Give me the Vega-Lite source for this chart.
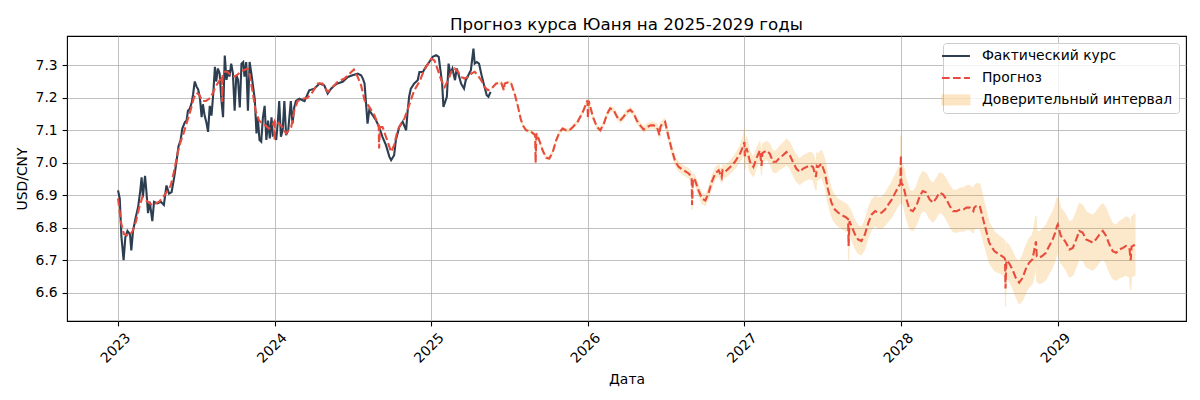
{
  "$schema": "https://vega.github.io/schema/vega-lite/v6.json",
  "width": 1119,
  "height": 285,
  "autosize": {"type": "none"},
  "padding": {"left": 67, "top": 36, "right": 14, "bottom": 79},
  "background": "white",
  "title": {
    "text": "Прогноз курса Юаня на 2025-2029 годы",
    "font": "DejaVu Sans",
    "fontSize": 16.67,
    "fontWeight": "normal",
    "color": "black",
    "anchor": "middle",
    "baseline": "alphabetic",
    "offset": -11
  },
  "datasets": {
    "actual": [
      {"date": "2023-01-01", "rate": 6.915}, {"date": "2023-01-05", "rate": 6.89}, {"date": "2023-01-09", "rate": 6.772}, {"date": "2023-01-14", "rate": 6.70},
      {"date": "2023-01-18", "rate": 6.77}, {"date": "2023-01-23", "rate": 6.79}, {"date": "2023-01-29", "rate": 6.78}, {"date": "2023-02-01", "rate": 6.73},
      {"date": "2023-02-05", "rate": 6.79}, {"date": "2023-02-11", "rate": 6.83}, {"date": "2023-02-17", "rate": 6.865}, {"date": "2023-02-22", "rate": 6.915},
      {"date": "2023-02-25", "rate": 6.955}, {"date": "2023-02-28", "rate": 6.895}, {"date": "2023-03-05", "rate": 6.96}, {"date": "2023-03-08", "rate": 6.915},
      {"date": "2023-03-12", "rate": 6.845}, {"date": "2023-03-16", "rate": 6.88}, {"date": "2023-03-22", "rate": 6.82}, {"date": "2023-03-26", "rate": 6.88},
      {"date": "2023-04-03", "rate": 6.875}, {"date": "2023-04-11", "rate": 6.88}, {"date": "2023-04-18", "rate": 6.87}, {"date": "2023-04-24", "rate": 6.93},
      {"date": "2023-04-30", "rate": 6.905}, {"date": "2023-05-06", "rate": 6.91}, {"date": "2023-05-12", "rate": 6.955}, {"date": "2023-05-17", "rate": 7.00},
      {"date": "2023-05-22", "rate": 7.05}, {"date": "2023-05-27", "rate": 7.07}, {"date": "2023-05-31", "rate": 7.105}, {"date": "2023-06-06", "rate": 7.125},
      {"date": "2023-06-10", "rate": 7.13}, {"date": "2023-06-13", "rate": 7.16}, {"date": "2023-06-17", "rate": 7.165}, {"date": "2023-06-22", "rate": 7.185},
      {"date": "2023-06-25", "rate": 7.21}, {"date": "2023-06-29", "rate": 7.25}, {"date": "2023-07-03", "rate": 7.235}, {"date": "2023-07-07", "rate": 7.225},
      {"date": "2023-07-11", "rate": 7.20}, {"date": "2023-07-15", "rate": 7.14}, {"date": "2023-07-18", "rate": 7.18}, {"date": "2023-07-22", "rate": 7.145},
      {"date": "2023-07-26", "rate": 7.125}, {"date": "2023-07-30", "rate": 7.095}, {"date": "2023-08-03", "rate": 7.175}, {"date": "2023-08-07", "rate": 7.145},
      {"date": "2023-08-11", "rate": 7.21}, {"date": "2023-08-15", "rate": 7.295}, {"date": "2023-08-18", "rate": 7.25}, {"date": "2023-08-22", "rate": 7.29},
      {"date": "2023-08-26", "rate": 7.275}, {"date": "2023-08-30", "rate": 7.195}, {"date": "2023-09-03", "rate": 7.14}, {"date": "2023-09-07", "rate": 7.33},
      {"date": "2023-09-11", "rate": 7.255}, {"date": "2023-09-15", "rate": 7.285}, {"date": "2023-09-18", "rate": 7.265}, {"date": "2023-09-22", "rate": 7.305},
      {"date": "2023-09-26", "rate": 7.275}, {"date": "2023-09-30", "rate": 7.16}, {"date": "2023-10-04", "rate": 7.27}, {"date": "2023-10-08", "rate": 7.255},
      {"date": "2023-10-12", "rate": 7.17}, {"date": "2023-10-16", "rate": 7.305}, {"date": "2023-10-20", "rate": 7.31}, {"date": "2023-10-23", "rate": 7.265},
      {"date": "2023-10-27", "rate": 7.31}, {"date": "2023-10-31", "rate": 7.16}, {"date": "2023-11-04", "rate": 7.31}, {"date": "2023-11-08", "rate": 7.275},
      {"date": "2023-11-12", "rate": 7.235}, {"date": "2023-11-16", "rate": 7.195}, {"date": "2023-11-20", "rate": 7.09}, {"date": "2023-11-23", "rate": 7.14},
      {"date": "2023-11-27", "rate": 7.07}, {"date": "2023-12-01", "rate": 7.065}, {"date": "2023-12-05", "rate": 7.14}, {"date": "2023-12-09", "rate": 7.175},
      {"date": "2023-12-13", "rate": 7.07}, {"date": "2023-12-17", "rate": 7.13}, {"date": "2023-12-21", "rate": 7.075}, {"date": "2023-12-25", "rate": 7.14},
      {"date": "2023-12-28", "rate": 7.085}, {"date": "2024-01-01", "rate": 7.09}, {"date": "2024-01-05", "rate": 7.07}, {"date": "2024-01-09", "rate": 7.13},
      {"date": "2024-01-12", "rate": 7.19}, {"date": "2024-01-16", "rate": 7.08}, {"date": "2024-01-20", "rate": 7.10}, {"date": "2024-01-24", "rate": 7.19},
      {"date": "2024-01-28", "rate": 7.085}, {"date": "2024-02-02", "rate": 7.10}, {"date": "2024-02-08", "rate": 7.19}, {"date": "2024-02-12", "rate": 7.12},
      {"date": "2024-02-16", "rate": 7.17}, {"date": "2024-02-20", "rate": 7.19}, {"date": "2024-02-28", "rate": 7.197}, {"date": "2024-03-11", "rate": 7.19},
      {"date": "2024-03-22", "rate": 7.223}, {"date": "2024-04-03", "rate": 7.228}, {"date": "2024-04-15", "rate": 7.244}, {"date": "2024-04-26", "rate": 7.238},
      {"date": "2024-05-04", "rate": 7.213}, {"date": "2024-05-12", "rate": 7.228}, {"date": "2024-05-20", "rate": 7.238}, {"date": "2024-05-27", "rate": 7.244},
      {"date": "2024-06-08", "rate": 7.249}, {"date": "2024-06-20", "rate": 7.264}, {"date": "2024-07-01", "rate": 7.269}, {"date": "2024-07-13", "rate": 7.274},
      {"date": "2024-07-21", "rate": 7.269}, {"date": "2024-07-25", "rate": 7.259}, {"date": "2024-07-29", "rate": 7.244}, {"date": "2024-08-01", "rate": 7.192},
      {"date": "2024-08-05", "rate": 7.12}, {"date": "2024-08-09", "rate": 7.162}, {"date": "2024-08-17", "rate": 7.146}, {"date": "2024-08-25", "rate": 7.13},
      {"date": "2024-09-01", "rate": 7.11}, {"date": "2024-09-09", "rate": 7.079}, {"date": "2024-09-17", "rate": 7.054}, {"date": "2024-09-25", "rate": 7.018},
      {"date": "2024-09-29", "rate": 7.008}, {"date": "2024-10-06", "rate": 7.023}, {"date": "2024-10-10", "rate": 7.069}, {"date": "2024-10-18", "rate": 7.11},
      {"date": "2024-10-26", "rate": 7.126}, {"date": "2024-11-03", "rate": 7.10}, {"date": "2024-11-06", "rate": 7.151}, {"date": "2024-11-10", "rate": 7.203},
      {"date": "2024-11-14", "rate": 7.228}, {"date": "2024-11-22", "rate": 7.244}, {"date": "2024-11-30", "rate": 7.254}, {"date": "2024-12-04", "rate": 7.279},
      {"date": "2024-12-12", "rate": 7.279}, {"date": "2024-12-19", "rate": 7.295}, {"date": "2024-12-27", "rate": 7.31}, {"date": "2025-01-04", "rate": 7.326},
      {"date": "2025-01-12", "rate": 7.331}, {"date": "2025-01-18", "rate": 7.326}, {"date": "2025-01-22", "rate": 7.285}, {"date": "2025-01-26", "rate": 7.244},
      {"date": "2025-01-29", "rate": 7.172}, {"date": "2025-02-02", "rate": 7.187}, {"date": "2025-02-06", "rate": 7.203}, {"date": "2025-02-10", "rate": 7.305},
      {"date": "2025-02-14", "rate": 7.274}, {"date": "2025-02-19", "rate": 7.29}, {"date": "2025-02-25", "rate": 7.254}, {"date": "2025-03-01", "rate": 7.29},
      {"date": "2025-03-07", "rate": 7.264}, {"date": "2025-03-11", "rate": 7.244}, {"date": "2025-03-18", "rate": 7.228}, {"date": "2025-03-22", "rate": 7.254},
      {"date": "2025-03-28", "rate": 7.269}, {"date": "2025-04-03", "rate": 7.285}, {"date": "2025-04-09", "rate": 7.351}, {"date": "2025-04-12", "rate": 7.305},
      {"date": "2025-04-17", "rate": 7.31}, {"date": "2025-04-22", "rate": 7.305}, {"date": "2025-04-28", "rate": 7.269}, {"date": "2025-05-04", "rate": 7.238},
      {"date": "2025-05-10", "rate": 7.208}, {"date": "2025-05-14", "rate": 7.203}, {"date": "2025-05-19", "rate": 7.218}
    ],
    "forecast": [
      {"date": "2023-01-01", "rate": 6.89}, {"date": "2023-01-08", "rate": 6.815}, {"date": "2023-01-15", "rate": 6.78}, {"date": "2023-01-27", "rate": 6.775},
      {"date": "2023-02-04", "rate": 6.79}, {"date": "2023-02-12", "rate": 6.82}, {"date": "2023-02-19", "rate": 6.86}, {"date": "2023-02-27", "rate": 6.895},
      {"date": "2023-03-11", "rate": 6.88}, {"date": "2023-03-22", "rate": 6.87}, {"date": "2023-04-07", "rate": 6.88}, {"date": "2023-04-22", "rate": 6.905},
      {"date": "2023-05-04", "rate": 6.93}, {"date": "2023-05-12", "rate": 6.975}, {"date": "2023-05-20", "rate": 7.03}, {"date": "2023-05-27", "rate": 7.065},
      {"date": "2023-06-04", "rate": 7.095}, {"date": "2023-06-12", "rate": 7.13}, {"date": "2023-06-20", "rate": 7.165}, {"date": "2023-06-27", "rate": 7.20},
      {"date": "2023-07-03", "rate": 7.215}, {"date": "2023-07-09", "rate": 7.21}, {"date": "2023-07-17", "rate": 7.19}, {"date": "2023-07-25", "rate": 7.19},
      {"date": "2023-08-05", "rate": 7.20}, {"date": "2023-08-17", "rate": 7.235}, {"date": "2023-08-29", "rate": 7.26}, {"date": "2023-08-31", "rate": 7.265},
      {"date": "2023-09-01", "rate": 7.187}, {"date": "2023-09-02", "rate": 7.27}, {"date": "2023-09-05", "rate": 7.28}, {"date": "2023-09-13", "rate": 7.28},
      {"date": "2023-09-21", "rate": 7.27}, {"date": "2023-09-29", "rate": 7.265}, {"date": "2023-10-06", "rate": 7.27}, {"date": "2023-10-14", "rate": 7.28},
      {"date": "2023-10-22", "rate": 7.285}, {"date": "2023-10-30", "rate": 7.29}, {"date": "2023-11-04", "rate": 7.27}, {"date": "2023-11-10", "rate": 7.225},
      {"date": "2023-11-18", "rate": 7.16}, {"date": "2023-11-26", "rate": 7.13}, {"date": "2023-12-04", "rate": 7.12}, {"date": "2023-12-11", "rate": 7.115},
      {"date": "2023-12-19", "rate": 7.105}, {"date": "2023-12-27", "rate": 7.115}, {"date": "2023-12-31", "rate": 7.125}, {"date": "2024-01-01", "rate": 7.07},
      {"date": "2024-01-02", "rate": 7.13}, {"date": "2024-01-16", "rate": 7.115}, {"date": "2024-01-28", "rate": 7.09}, {"date": "2024-02-09", "rate": 7.11},
      {"date": "2024-02-16", "rate": 7.16}, {"date": "2024-02-24", "rate": 7.19}, {"date": "2024-03-07", "rate": 7.197}, {"date": "2024-03-18", "rate": 7.20},
      {"date": "2024-03-30", "rate": 7.218}, {"date": "2024-04-11", "rate": 7.244}, {"date": "2024-04-22", "rate": 7.244}, {"date": "2024-05-04", "rate": 7.218},
      {"date": "2024-05-16", "rate": 7.233}, {"date": "2024-05-27", "rate": 7.249}, {"date": "2024-06-12", "rate": 7.259}, {"date": "2024-06-24", "rate": 7.274},
      {"date": "2024-07-04", "rate": 7.287}, {"date": "2024-07-13", "rate": 7.264}, {"date": "2024-07-21", "rate": 7.238}, {"date": "2024-07-29", "rate": 7.192},
      {"date": "2024-08-09", "rate": 7.172}, {"date": "2024-08-21", "rate": 7.146}, {"date": "2024-08-29", "rate": 7.12}, {"date": "2024-08-31", "rate": 7.115},
      {"date": "2024-09-01", "rate": 7.044}, {"date": "2024-09-03", "rate": 7.11}, {"date": "2024-09-09", "rate": 7.11}, {"date": "2024-09-17", "rate": 7.08},
      {"date": "2024-09-29", "rate": 7.033}, {"date": "2024-10-06", "rate": 7.054}, {"date": "2024-10-14", "rate": 7.10}, {"date": "2024-10-22", "rate": 7.12},
      {"date": "2024-10-30", "rate": 7.136}, {"date": "2024-11-10", "rate": 7.177}, {"date": "2024-11-22", "rate": 7.223}, {"date": "2024-12-04", "rate": 7.249},
      {"date": "2024-12-15", "rate": 7.285}, {"date": "2024-12-27", "rate": 7.31}, {"date": "2025-01-01", "rate": 7.32}, {"date": "2025-01-08", "rate": 7.315},
      {"date": "2025-01-16", "rate": 7.285}, {"date": "2025-01-24", "rate": 7.254}, {"date": "2025-02-01", "rate": 7.233}, {"date": "2025-02-09", "rate": 7.254},
      {"date": "2025-02-16", "rate": 7.28}, {"date": "2025-02-24", "rate": 7.29}, {"date": "2025-03-04", "rate": 7.28}, {"date": "2025-03-11", "rate": 7.264},
      {"date": "2025-03-19", "rate": 7.259}, {"date": "2025-03-27", "rate": 7.264}, {"date": "2025-04-04", "rate": 7.274}, {"date": "2025-04-12", "rate": 7.28},
      {"date": "2025-04-19", "rate": 7.269}, {"date": "2025-04-27", "rate": 7.254}, {"date": "2025-05-05", "rate": 7.233}, {"date": "2025-05-13", "rate": 7.223},
      {"date": "2025-05-21", "rate": 7.228}, {"date": "2025-06-01", "rate": 7.244}, {"date": "2025-06-13", "rate": 7.246}, {"date": "2025-06-19", "rate": 7.223},
      {"date": "2025-06-21", "rate": 7.244}, {"date": "2025-07-02", "rate": 7.249}, {"date": "2025-07-06", "rate": 7.244}, {"date": "2025-07-14", "rate": 7.213},
      {"date": "2025-07-22", "rate": 7.172}, {"date": "2025-07-28", "rate": 7.136}, {"date": "2025-08-02", "rate": 7.115}, {"date": "2025-08-10", "rate": 7.10},
      {"date": "2025-08-22", "rate": 7.095}, {"date": "2025-08-31", "rate": 7.085}, {"date": "2025-09-01", "rate": 7.00}, {"date": "2025-09-03", "rate": 7.09},
      {"date": "2025-09-10", "rate": 7.067}, {"date": "2025-09-18", "rate": 7.036}, {"date": "2025-09-26", "rate": 7.015}, {"date": "2025-10-03", "rate": 7.013},
      {"date": "2025-10-11", "rate": 7.033}, {"date": "2025-10-19", "rate": 7.069}, {"date": "2025-10-27", "rate": 7.095}, {"date": "2025-11-03", "rate": 7.105},
      {"date": "2025-11-11", "rate": 7.10}, {"date": "2025-11-19", "rate": 7.10}, {"date": "2025-11-27", "rate": 7.11}, {"date": "2025-12-08", "rate": 7.126},
      {"date": "2025-12-20", "rate": 7.156}, {"date": "2025-12-28", "rate": 7.182}, {"date": "2025-12-31", "rate": 7.192}, {"date": "2026-01-01", "rate": 7.136},
      {"date": "2026-01-03", "rate": 7.19}, {"date": "2026-01-13", "rate": 7.14}, {"date": "2026-01-22", "rate": 7.11}, {"date": "2026-01-30", "rate": 7.10},
      {"date": "2026-02-07", "rate": 7.12}, {"date": "2026-02-15", "rate": 7.151}, {"date": "2026-02-22", "rate": 7.167}, {"date": "2026-03-02", "rate": 7.162},
      {"date": "2026-03-10", "rate": 7.141}, {"date": "2026-03-17", "rate": 7.13}, {"date": "2026-03-25", "rate": 7.141}, {"date": "2026-04-02", "rate": 7.156},
      {"date": "2026-04-10", "rate": 7.163}, {"date": "2026-04-18", "rate": 7.151}, {"date": "2026-04-25", "rate": 7.13}, {"date": "2026-05-03", "rate": 7.115},
      {"date": "2026-05-11", "rate": 7.102}, {"date": "2026-05-19", "rate": 7.11}, {"date": "2026-05-27", "rate": 7.115}, {"date": "2026-06-03", "rate": 7.115},
      {"date": "2026-06-11", "rate": 7.11}, {"date": "2026-06-17", "rate": 7.085}, {"date": "2026-06-19", "rate": 7.11}, {"date": "2026-06-23", "rate": 7.12},
      {"date": "2026-06-30", "rate": 7.126}, {"date": "2026-07-08", "rate": 7.08}, {"date": "2026-07-16", "rate": 7.038}, {"date": "2026-07-24", "rate": 7.003},
      {"date": "2026-08-01", "rate": 6.987}, {"date": "2026-08-12", "rate": 6.977}, {"date": "2026-08-24", "rate": 6.967}, {"date": "2026-08-31", "rate": 6.956},
      {"date": "2026-09-01", "rate": 6.87}, {"date": "2026-09-03", "rate": 6.952}, {"date": "2026-09-08", "rate": 6.946}, {"date": "2026-09-16", "rate": 6.915},
      {"date": "2026-09-24", "rate": 6.89}, {"date": "2026-10-02", "rate": 6.884}, {"date": "2026-10-09", "rate": 6.905}, {"date": "2026-10-17", "rate": 6.941},
      {"date": "2026-10-25", "rate": 6.967}, {"date": "2026-11-02", "rate": 6.977}, {"date": "2026-11-09", "rate": 6.955}, {"date": "2026-11-11", "rate": 6.977},
      {"date": "2026-11-17", "rate": 6.972}, {"date": "2026-11-29", "rate": 6.987}, {"date": "2026-12-10", "rate": 7.003}, {"date": "2026-12-22", "rate": 7.028},
      {"date": "2026-12-30", "rate": 7.054}, {"date": "2027-01-01", "rate": 7.064}, {"date": "2027-01-02", "rate": 7.02}, {"date": "2027-01-06", "rate": 7.045},
      {"date": "2027-01-14", "rate": 7.003}, {"date": "2027-01-22", "rate": 6.987}, {"date": "2027-01-29", "rate": 7.013}, {"date": "2027-02-06", "rate": 7.038},
      {"date": "2027-02-10", "rate": 6.99}, {"date": "2027-02-12", "rate": 7.03}, {"date": "2027-02-22", "rate": 7.038}, {"date": "2027-03-01", "rate": 7.028},
      {"date": "2027-03-09", "rate": 7.003}, {"date": "2027-03-16", "rate": 7.003}, {"date": "2027-03-24", "rate": 7.015}, {"date": "2027-04-01", "rate": 7.023},
      {"date": "2027-04-09", "rate": 7.033}, {"date": "2027-04-17", "rate": 7.023}, {"date": "2027-04-24", "rate": 7.003}, {"date": "2027-05-02", "rate": 6.982},
      {"date": "2027-05-10", "rate": 6.972}, {"date": "2027-05-18", "rate": 6.982}, {"date": "2027-05-26", "rate": 6.987}, {"date": "2027-06-03", "rate": 6.992},
      {"date": "2027-06-10", "rate": 6.987}, {"date": "2027-06-17", "rate": 6.956}, {"date": "2027-06-19", "rate": 6.99}, {"date": "2027-06-22", "rate": 6.987},
      {"date": "2027-06-30", "rate": 6.997}, {"date": "2027-07-08", "rate": 6.967}, {"date": "2027-07-15", "rate": 6.918}, {"date": "2027-07-23", "rate": 6.877},
      {"date": "2027-07-31", "rate": 6.856}, {"date": "2027-08-08", "rate": 6.846}, {"date": "2027-08-20", "rate": 6.836}, {"date": "2027-08-27", "rate": 6.831},
      {"date": "2027-08-31", "rate": 6.826}, {"date": "2027-09-01", "rate": 6.744}, {"date": "2027-09-03", "rate": 6.82}, {"date": "2027-09-08", "rate": 6.805},
      {"date": "2027-09-16", "rate": 6.779}, {"date": "2027-09-23", "rate": 6.764}, {"date": "2027-10-01", "rate": 6.759}, {"date": "2027-10-09", "rate": 6.779},
      {"date": "2027-10-17", "rate": 6.815}, {"date": "2027-10-25", "rate": 6.841}, {"date": "2027-11-02", "rate": 6.851}, {"date": "2027-11-09", "rate": 6.846},
      {"date": "2027-11-17", "rate": 6.846}, {"date": "2027-11-25", "rate": 6.856}, {"date": "2027-12-03", "rate": 6.872}, {"date": "2027-12-11", "rate": 6.887},
      {"date": "2027-12-19", "rate": 6.908}, {"date": "2027-12-27", "rate": 6.928}, {"date": "2027-12-31", "rate": 6.935}, {"date": "2028-01-01", "rate": 7.023},
      {"date": "2028-01-02", "rate": 6.938}, {"date": "2028-01-07", "rate": 6.928}, {"date": "2028-01-13", "rate": 6.892}, {"date": "2028-01-21", "rate": 6.856},
      {"date": "2028-01-29", "rate": 6.851}, {"date": "2028-02-06", "rate": 6.867}, {"date": "2028-02-14", "rate": 6.897}, {"date": "2028-02-21", "rate": 6.913},
      {"date": "2028-02-29", "rate": 6.908}, {"date": "2028-03-08", "rate": 6.887}, {"date": "2028-03-16", "rate": 6.877}, {"date": "2028-03-24", "rate": 6.892},
      {"date": "2028-03-31", "rate": 6.908}, {"date": "2028-04-08", "rate": 6.903}, {"date": "2028-04-16", "rate": 6.887}, {"date": "2028-04-24", "rate": 6.867},
      {"date": "2028-05-02", "rate": 6.851}, {"date": "2028-05-10", "rate": 6.851}, {"date": "2028-05-18", "rate": 6.856}, {"date": "2028-05-26", "rate": 6.856},
      {"date": "2028-06-02", "rate": 6.862}, {"date": "2028-06-10", "rate": 6.862}, {"date": "2028-06-18", "rate": 6.851}, {"date": "2028-06-20", "rate": 6.862},
      {"date": "2028-06-25", "rate": 6.867}, {"date": "2028-07-03", "rate": 6.867}, {"date": "2028-07-09", "rate": 6.836}, {"date": "2028-07-17", "rate": 6.795},
      {"date": "2028-07-25", "rate": 6.754}, {"date": "2028-08-06", "rate": 6.728}, {"date": "2028-08-17", "rate": 6.718}, {"date": "2028-08-29", "rate": 6.708},
      {"date": "2028-08-31", "rate": 6.703}, {"date": "2028-09-01", "rate": 6.613}, {"date": "2028-09-03", "rate": 6.70}, {"date": "2028-09-09", "rate": 6.692},
      {"date": "2028-09-17", "rate": 6.672}, {"date": "2028-09-25", "rate": 6.646}, {"date": "2028-10-03", "rate": 6.631}, {"date": "2028-10-11", "rate": 6.646},
      {"date": "2028-10-18", "rate": 6.672}, {"date": "2028-10-26", "rate": 6.692}, {"date": "2028-11-03", "rate": 6.703}, {"date": "2028-11-11", "rate": 6.758},
      {"date": "2028-11-13", "rate": 6.712}, {"date": "2028-11-19", "rate": 6.708}, {"date": "2028-11-26", "rate": 6.713}, {"date": "2028-12-04", "rate": 6.723},
      {"date": "2028-12-12", "rate": 6.744}, {"date": "2028-12-20", "rate": 6.764}, {"date": "2028-12-26", "rate": 6.785}, {"date": "2028-12-30", "rate": 6.805},
      {"date": "2029-01-01", "rate": 6.81}, {"date": "2029-01-04", "rate": 6.795}, {"date": "2029-01-08", "rate": 6.775}, {"date": "2029-01-12", "rate": 6.77},
      {"date": "2029-01-20", "rate": 6.754}, {"date": "2029-01-28", "rate": 6.733}, {"date": "2029-02-05", "rate": 6.738}, {"date": "2029-02-13", "rate": 6.764},
      {"date": "2029-02-20", "rate": 6.79}, {"date": "2029-02-28", "rate": 6.785}, {"date": "2029-03-08", "rate": 6.764}, {"date": "2029-03-16", "rate": 6.759},
      {"date": "2029-03-24", "rate": 6.754}, {"date": "2029-03-31", "rate": 6.764}, {"date": "2029-04-08", "rate": 6.779}, {"date": "2029-04-16", "rate": 6.79},
      {"date": "2029-04-24", "rate": 6.774}, {"date": "2029-05-01", "rate": 6.749}, {"date": "2029-05-09", "rate": 6.728}, {"date": "2029-05-17", "rate": 6.723},
      {"date": "2029-05-25", "rate": 6.733}, {"date": "2029-06-02", "rate": 6.738}, {"date": "2029-06-09", "rate": 6.744}, {"date": "2029-06-17", "rate": 6.738},
      {"date": "2029-06-20", "rate": 6.70}, {"date": "2029-06-22", "rate": 6.742}, {"date": "2029-06-25", "rate": 6.744}, {"date": "2029-06-30", "rate": 6.748}
    ],
    "band": [
      {"date": "2025-05-21", "lo": 7.225, "hi": 7.231}, {"date": "2025-06-01", "lo": 7.241, "hi": 7.247}, {"date": "2025-06-13", "lo": 7.243, "hi": 7.249},
      {"date": "2025-06-19", "lo": 7.22, "hi": 7.226}, {"date": "2025-06-21", "lo": 7.241, "hi": 7.247}, {"date": "2025-07-02", "lo": 7.246, "hi": 7.252},
      {"date": "2025-07-06", "lo": 7.241, "hi": 7.247}, {"date": "2025-07-14", "lo": 7.21, "hi": 7.216}, {"date": "2025-07-22", "lo": 7.169, "hi": 7.175},
      {"date": "2025-07-28", "lo": 7.133, "hi": 7.139}, {"date": "2025-08-02", "lo": 7.112, "hi": 7.118}, {"date": "2025-08-10", "lo": 7.096, "hi": 7.104},
      {"date": "2025-08-22", "lo": 7.091, "hi": 7.099}, {"date": "2025-08-31", "lo": 7.081, "hi": 7.089}, {"date": "2025-09-01", "lo": 6.996, "hi": 7.004},
      {"date": "2025-09-03", "lo": 7.086, "hi": 7.094}, {"date": "2025-09-10", "lo": 7.063, "hi": 7.071}, {"date": "2025-09-18", "lo": 7.032, "hi": 7.04},
      {"date": "2025-09-26", "lo": 7.011, "hi": 7.019}, {"date": "2025-10-03", "lo": 7.008, "hi": 7.018}, {"date": "2025-10-11", "lo": 7.028, "hi": 7.038},
      {"date": "2025-10-19", "lo": 7.064, "hi": 7.074}, {"date": "2025-10-27", "lo": 7.09, "hi": 7.10}, {"date": "2025-11-03", "lo": 7.10, "hi": 7.11},
      {"date": "2025-11-11", "lo": 7.095, "hi": 7.105}, {"date": "2025-11-19", "lo": 7.095, "hi": 7.105}, {"date": "2025-11-27", "lo": 7.105, "hi": 7.115},
      {"date": "2025-12-08", "lo": 7.12, "hi": 7.132}, {"date": "2025-12-20", "lo": 7.15, "hi": 7.162}, {"date": "2025-12-28", "lo": 7.176, "hi": 7.188},
      {"date": "2025-12-31", "lo": 7.186, "hi": 7.198}, {"date": "2026-01-01", "lo": 7.13, "hi": 7.142}, {"date": "2026-01-03", "lo": 7.184, "hi": 7.196},
      {"date": "2026-01-13", "lo": 7.134, "hi": 7.146}, {"date": "2026-01-22", "lo": 7.104, "hi": 7.116}, {"date": "2026-01-30", "lo": 7.094, "hi": 7.106},
      {"date": "2026-02-07", "lo": 7.113, "hi": 7.127}, {"date": "2026-02-15", "lo": 7.144, "hi": 7.158}, {"date": "2026-02-22", "lo": 7.16, "hi": 7.174},
      {"date": "2026-03-02", "lo": 7.155, "hi": 7.169}, {"date": "2026-03-10", "lo": 7.134, "hi": 7.148}, {"date": "2026-03-17", "lo": 7.122, "hi": 7.138},
      {"date": "2026-03-25", "lo": 7.133, "hi": 7.149}, {"date": "2026-04-02", "lo": 7.148, "hi": 7.164}, {"date": "2026-04-10", "lo": 7.155, "hi": 7.171},
      {"date": "2026-04-18", "lo": 7.143, "hi": 7.159}, {"date": "2026-04-25", "lo": 7.121, "hi": 7.139}, {"date": "2026-05-03", "lo": 7.106, "hi": 7.124},
      {"date": "2026-05-11", "lo": 7.093, "hi": 7.111}, {"date": "2026-05-19", "lo": 7.10, "hi": 7.12}, {"date": "2026-05-27", "lo": 7.105, "hi": 7.125},
      {"date": "2026-06-03", "lo": 7.105, "hi": 7.125}, {"date": "2026-06-11", "lo": 7.10, "hi": 7.12}, {"date": "2026-06-17", "lo": 7.075, "hi": 7.095},
      {"date": "2026-06-19", "lo": 7.10, "hi": 7.12}, {"date": "2026-06-23", "lo": 7.11, "hi": 7.13}, {"date": "2026-06-30", "lo": 7.115, "hi": 7.137},
      {"date": "2026-07-08", "lo": 7.068, "hi": 7.092}, {"date": "2026-07-16", "lo": 7.026, "hi": 7.05}, {"date": "2026-07-24", "lo": 6.99, "hi": 7.016},
      {"date": "2026-08-01", "lo": 6.973, "hi": 7.001}, {"date": "2026-08-12", "lo": 6.963, "hi": 6.991}, {"date": "2026-08-24", "lo": 6.952, "hi": 6.982},
      {"date": "2026-08-31", "lo": 6.941, "hi": 6.971}, {"date": "2026-09-01", "lo": 6.855, "hi": 6.885}, {"date": "2026-09-03", "lo": 6.937, "hi": 6.967},
      {"date": "2026-09-08", "lo": 6.931, "hi": 6.961}, {"date": "2026-09-16", "lo": 6.899, "hi": 6.931}, {"date": "2026-09-24", "lo": 6.874, "hi": 6.906},
      {"date": "2026-10-02", "lo": 6.867, "hi": 6.901}, {"date": "2026-10-09", "lo": 6.888, "hi": 6.922}, {"date": "2026-10-17", "lo": 6.923, "hi": 6.959},
      {"date": "2026-10-25", "lo": 6.949, "hi": 6.985}, {"date": "2026-11-02", "lo": 6.959, "hi": 6.995}, {"date": "2026-11-09", "lo": 6.937, "hi": 6.973},
      {"date": "2026-11-11", "lo": 6.959, "hi": 6.995}, {"date": "2026-11-17", "lo": 6.953, "hi": 6.991}, {"date": "2026-11-29", "lo": 6.967, "hi": 7.007},
      {"date": "2026-12-10", "lo": 6.982, "hi": 7.024}, {"date": "2026-12-22", "lo": 7.004, "hi": 7.052}, {"date": "2026-12-30", "lo": 7.024, "hi": 7.084},
      {"date": "2027-01-01", "lo": 7.024, "hi": 7.104}, {"date": "2027-01-02", "lo": 6.98, "hi": 7.06}, {"date": "2027-01-06", "lo": 7.01, "hi": 7.08},
      {"date": "2027-01-14", "lo": 6.971, "hi": 7.035}, {"date": "2027-01-22", "lo": 6.957, "hi": 7.017}, {"date": "2027-01-29", "lo": 6.984, "hi": 7.042},
      {"date": "2027-02-06", "lo": 7.01, "hi": 7.066}, {"date": "2027-02-10", "lo": 6.962, "hi": 7.018}, {"date": "2027-02-12", "lo": 7.002, "hi": 7.058},
      {"date": "2027-02-22", "lo": 7.01, "hi": 7.066}, {"date": "2027-03-01", "lo": 6.998, "hi": 7.058}, {"date": "2027-03-09", "lo": 6.971, "hi": 7.035},
      {"date": "2027-03-16", "lo": 6.969, "hi": 7.037}, {"date": "2027-03-24", "lo": 6.979, "hi": 7.051}, {"date": "2027-04-01", "lo": 6.985, "hi": 7.061},
      {"date": "2027-04-09", "lo": 6.993, "hi": 7.073}, {"date": "2027-04-17", "lo": 6.983, "hi": 7.063}, {"date": "2027-04-24", "lo": 6.963, "hi": 7.043},
      {"date": "2027-05-02", "lo": 6.942, "hi": 7.022}, {"date": "2027-05-10", "lo": 6.932, "hi": 7.012}, {"date": "2027-05-18", "lo": 6.942, "hi": 7.022},
      {"date": "2027-05-26", "lo": 6.947, "hi": 7.027}, {"date": "2027-06-03", "lo": 6.951, "hi": 7.033}, {"date": "2027-06-10", "lo": 6.946, "hi": 7.028},
      {"date": "2027-06-17", "lo": 6.915, "hi": 6.997}, {"date": "2027-06-19", "lo": 6.949, "hi": 7.031}, {"date": "2027-06-22", "lo": 6.946, "hi": 7.028},
      {"date": "2027-06-30", "lo": 6.955, "hi": 7.039}, {"date": "2027-07-08", "lo": 6.925, "hi": 7.009}, {"date": "2027-07-15", "lo": 6.876, "hi": 6.96},
      {"date": "2027-07-23", "lo": 6.835, "hi": 6.919}, {"date": "2027-07-31", "lo": 6.814, "hi": 6.898}, {"date": "2027-08-08", "lo": 6.804, "hi": 6.888},
      {"date": "2027-08-20", "lo": 6.794, "hi": 6.878}, {"date": "2027-08-27", "lo": 6.789, "hi": 6.873}, {"date": "2027-08-31", "lo": 6.784, "hi": 6.868},
      {"date": "2027-09-01", "lo": 6.702, "hi": 6.786}, {"date": "2027-09-03", "lo": 6.778, "hi": 6.862}, {"date": "2027-09-08", "lo": 6.763, "hi": 6.847},
      {"date": "2027-09-16", "lo": 6.736, "hi": 6.822}, {"date": "2027-09-23", "lo": 6.721, "hi": 6.807}, {"date": "2027-10-01", "lo": 6.716, "hi": 6.802},
      {"date": "2027-10-09", "lo": 6.735, "hi": 6.823}, {"date": "2027-10-17", "lo": 6.77, "hi": 6.86}, {"date": "2027-10-25", "lo": 6.796, "hi": 6.886},
      {"date": "2027-11-02", "lo": 6.805, "hi": 6.897}, {"date": "2027-11-09", "lo": 6.799, "hi": 6.893}, {"date": "2027-11-17", "lo": 6.798, "hi": 6.894},
      {"date": "2027-11-25", "lo": 6.806, "hi": 6.906}, {"date": "2027-12-03", "lo": 6.82, "hi": 6.924}, {"date": "2027-12-11", "lo": 6.833, "hi": 6.941},
      {"date": "2027-12-19", "lo": 6.852, "hi": 6.964}, {"date": "2027-12-27", "lo": 6.87, "hi": 6.986}, {"date": "2027-12-31", "lo": 6.875, "hi": 6.995},
      {"date": "2028-01-01", "lo": 6.963, "hi": 7.083}, {"date": "2028-01-02", "lo": 6.878, "hi": 6.998}, {"date": "2028-01-07", "lo": 6.868, "hi": 6.988},
      {"date": "2028-01-13", "lo": 6.832, "hi": 6.952}, {"date": "2028-01-21", "lo": 6.796, "hi": 6.916}, {"date": "2028-01-29", "lo": 6.791, "hi": 6.911},
      {"date": "2028-02-06", "lo": 6.807, "hi": 6.927}, {"date": "2028-02-14", "lo": 6.837, "hi": 6.957}, {"date": "2028-02-21", "lo": 6.853, "hi": 6.973},
      {"date": "2028-02-29", "lo": 6.848, "hi": 6.968}, {"date": "2028-03-08", "lo": 6.827, "hi": 6.947}, {"date": "2028-03-16", "lo": 6.817, "hi": 6.937},
      {"date": "2028-03-24", "lo": 6.831, "hi": 6.953}, {"date": "2028-03-31", "lo": 6.847, "hi": 6.969}, {"date": "2028-04-08", "lo": 6.841, "hi": 6.965},
      {"date": "2028-04-16", "lo": 6.825, "hi": 6.949}, {"date": "2028-04-24", "lo": 6.804, "hi": 6.93}, {"date": "2028-05-02", "lo": 6.787, "hi": 6.915},
      {"date": "2028-05-10", "lo": 6.786, "hi": 6.916}, {"date": "2028-05-18", "lo": 6.79, "hi": 6.922}, {"date": "2028-05-26", "lo": 6.789, "hi": 6.923},
      {"date": "2028-06-02", "lo": 6.794, "hi": 6.93}, {"date": "2028-06-10", "lo": 6.794, "hi": 6.93}, {"date": "2028-06-18", "lo": 6.783, "hi": 6.919},
      {"date": "2028-06-20", "lo": 6.794, "hi": 6.93}, {"date": "2028-06-25", "lo": 6.799, "hi": 6.935}, {"date": "2028-07-03", "lo": 6.799, "hi": 6.935},
      {"date": "2028-07-09", "lo": 6.77, "hi": 6.902}, {"date": "2028-07-17", "lo": 6.731, "hi": 6.859}, {"date": "2028-07-25", "lo": 6.692, "hi": 6.816},
      {"date": "2028-08-06", "lo": 6.668, "hi": 6.788}, {"date": "2028-08-17", "lo": 6.661, "hi": 6.775}, {"date": "2028-08-29", "lo": 6.653, "hi": 6.763},
      {"date": "2028-08-31", "lo": 6.648, "hi": 6.758}, {"date": "2028-09-01", "lo": 6.558, "hi": 6.668}, {"date": "2028-09-03", "lo": 6.645, "hi": 6.755},
      {"date": "2028-09-09", "lo": 6.637, "hi": 6.747}, {"date": "2028-09-17", "lo": 6.616, "hi": 6.728}, {"date": "2028-09-25", "lo": 6.588, "hi": 6.704},
      {"date": "2028-10-03", "lo": 6.565, "hi": 6.697}, {"date": "2028-10-11", "lo": 6.576, "hi": 6.716}, {"date": "2028-10-18", "lo": 6.60, "hi": 6.744},
      {"date": "2028-10-26", "lo": 6.618, "hi": 6.766}, {"date": "2028-11-03", "lo": 6.627, "hi": 6.779}, {"date": "2028-11-11", "lo": 6.68, "hi": 6.836},
      {"date": "2028-11-13", "lo": 6.634, "hi": 6.79}, {"date": "2028-11-19", "lo": 6.628, "hi": 6.788}, {"date": "2028-11-26", "lo": 6.631, "hi": 6.795},
      {"date": "2028-12-04", "lo": 6.639, "hi": 6.807}, {"date": "2028-12-12", "lo": 6.659, "hi": 6.829}, {"date": "2028-12-20", "lo": 6.679, "hi": 6.849},
      {"date": "2028-12-26", "lo": 6.70, "hi": 6.87}, {"date": "2028-12-30", "lo": 6.72, "hi": 6.89}, {"date": "2029-01-01", "lo": 6.725, "hi": 6.895},
      {"date": "2029-01-04", "lo": 6.71, "hi": 6.88}, {"date": "2029-01-08", "lo": 6.69, "hi": 6.86}, {"date": "2029-01-12", "lo": 6.685, "hi": 6.855},
      {"date": "2029-01-20", "lo": 6.669, "hi": 6.839}, {"date": "2029-01-28", "lo": 6.648, "hi": 6.818}, {"date": "2029-02-05", "lo": 6.653, "hi": 6.823},
      {"date": "2029-02-13", "lo": 6.679, "hi": 6.849}, {"date": "2029-02-20", "lo": 6.705, "hi": 6.875}, {"date": "2029-02-28", "lo": 6.70, "hi": 6.87},
      {"date": "2029-03-08", "lo": 6.679, "hi": 6.849}, {"date": "2029-03-16", "lo": 6.674, "hi": 6.844}, {"date": "2029-03-24", "lo": 6.669, "hi": 6.839},
      {"date": "2029-03-31", "lo": 6.679, "hi": 6.849}, {"date": "2029-04-08", "lo": 6.694, "hi": 6.864}, {"date": "2029-04-16", "lo": 6.705, "hi": 6.875},
      {"date": "2029-04-24", "lo": 6.689, "hi": 6.859}, {"date": "2029-05-01", "lo": 6.664, "hi": 6.834}, {"date": "2029-05-09", "lo": 6.643, "hi": 6.813},
      {"date": "2029-05-17", "lo": 6.638, "hi": 6.808}, {"date": "2029-05-25", "lo": 6.646, "hi": 6.82}, {"date": "2029-06-02", "lo": 6.65, "hi": 6.826},
      {"date": "2029-06-09", "lo": 6.654, "hi": 6.834}, {"date": "2029-06-17", "lo": 6.647, "hi": 6.829}, {"date": "2029-06-20", "lo": 6.608, "hi": 6.792},
      {"date": "2029-06-22", "lo": 6.65, "hi": 6.834}, {"date": "2029-06-25", "lo": 6.651, "hi": 6.837}, {"date": "2029-06-30", "lo": 6.653, "hi": 6.843}
    ]
  },
  "encoding": {
    "x": {
      "field": "date",
      "type": "temporal",
      "title": "Дата",
      "scale": {
        "type": "utc",
        "domain": [
          {"year": 2022, "month": 9, "date": 4, "utc": true},
          {"year": 2029, "month": 10, "date": 27, "utc": true}
        ]
      },
      "axis": {
        "values": [
          {"year": 2023, "utc": true}, {"year": 2024, "utc": true}, {"year": 2025, "utc": true},
          {"year": 2026, "utc": true}, {"year": 2027, "utc": true}, {"year": 2028, "utc": true},
          {"year": 2029, "utc": true}
        ],
        "format": "%Y",
        "labelAngle": -45,
        "labelAlign": "right",
        "labelBaseline": "middle",
        "labelOffset": 10,
        "labelPadding": 9.5,
        "titleY": 62,
        "titleBaseline": "alphabetic"
      }
    }
  },
  "layer": [
    {
      "data": {"name": "band"},
      "mark": {"type": "area", "opacity": 0.22, "stroke": "#f39c12", "strokeWidth": 1},
      "encoding": {
        "y": {
          "field": "lo",
          "type": "quantitative",
          "title": "USD/CNY",
          "scale": {"domain": [6.513, 7.39], "nice": false, "zero": false},
          "axis": {
            "values": [6.6, 6.7, 6.8, 6.9, 7.0, 7.1, 7.2, 7.3],
            "format": ".1f",
            "titleX": -45,
            "titleY": 142.5,
            "titleBaseline": "middle"
          }
        },
        "y2": {"field": "hi"},
        "color": {
          "datum": "Доверительный интервал",
          "scale": {
            "domain": ["Фактический курс", "Прогноз", "Доверительный интервал"],
            "range": ["#2c3e50", "#e74c3c", "#f39c12"]
          },
          "legend": {
            "title": null,
            "orient": "top-right",
            "offset": 7,
            "padding": 6,
            "fillColor": "rgba(255,255,255,0.8)",
            "strokeColor": "#cccccc",
            "cornerRadius": 3,
            "symbolSize": 784,
            "labelOffset": 19,
            "rowPadding": 7,
            "symbolType": {"expr": "datum.value === 'Доверительный интервал' ? 'M-1,-0.36L1,-0.36L1,0.36L-1,0.36Z' : 'stroke'"},
            "symbolStrokeColor": {"expr": "datum.value === 'Фактический курс' ? '#2c3e50' : datum.value === 'Прогноз' ? '#e74c3c' : '#f39c12'"},
            "symbolStrokeWidth": {"expr": "datum.value === 'Доверительный интервал' ? 1 : 2.1"},
            "symbolDash": {"expr": "datum.value === 'Прогноз' ? [7.7, 3.3] : [1, 0]"},
            "symbolOpacity": {"expr": "datum.value === 'Доверительный интервал' ? 0.25 : 1"}
          }
        }
      }
    },
    {
      "data": {"name": "actual"},
      "mark": {"type": "line", "strokeWidth": 2.1, "color": "#2c3e50"},
      "encoding": {
        "y": {"field": "rate", "type": "quantitative"}
      }
    },
    {
      "data": {"name": "forecast"},
      "mark": {"type": "line", "strokeWidth": 2.1, "strokeDash": [7.7, 3.3], "color": "#e74c3c"},
      "encoding": {
        "y": {"field": "rate", "type": "quantitative"}
      }
    }
  ],
  "config": {
    "font": "DejaVu Sans",
    "view": {"stroke": "black", "strokeWidth": 1.1},
    "axis": {
      "labelFont": "DejaVu Sans",
      "labelFontSize": 13.9,
      "labelColor": "black",
      "titleFont": "DejaVu Sans",
      "titleFontSize": 13.9,
      "titleFontWeight": "normal",
      "titleColor": "black",
      "tickColor": "black",
      "tickSize": 4.9,
      "tickWidth": 1.1,
      "labelPadding": 4.9,
      "gridColor": "#b0b0b0",
      "gridWidth": 0.8,
      "domain": false
    },
    "legend": {
      "labelFont": "DejaVu Sans",
      "labelFontSize": 13.9,
      "labelColor": "black",
      "labelLimit": 400
    }
  }
}
